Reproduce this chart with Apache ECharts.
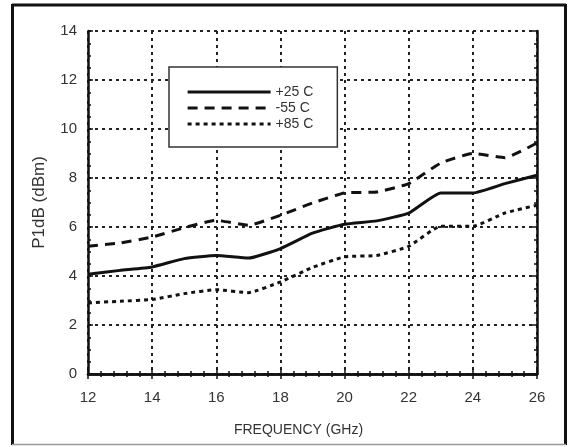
<!DOCTYPE html>
<html>
<head>
<meta charset="utf-8">
<script src="https://cdn.jsdelivr.net/npm/echarts@6/dist/echarts.min.js"></script>
<style>
html,body{margin:0;padding:0;background:#fff;}
#chart{width:569px;height:447px;}
</style>
</head>
<body>
<div id="chart"></div>
<script>
var frequencies = [12, 13, 14, 15, 16, 17, 18, 19, 20, 21, 22, 23, 24, 25, 26];
var seriesNames = ['+25 C', '-55 C', '+85 C'];
var p1dbPlus25 = [4.07, 4.23, 4.37, 4.71, 4.84, 4.73, 5.12, 5.75, 6.11, 6.25, 6.57, 7.39, 7.39, 7.77, 8.11];
var p1dbMinus55 = [5.21, 5.35, 5.59, 5.97, 6.27, 6.07, 6.48, 6.98, 7.39, 7.43, 7.77, 8.61, 9.0, 8.83, 9.43];
var p1dbPlus85 = [2.90, 2.97, 3.04, 3.28, 3.44, 3.32, 3.76, 4.35, 4.78, 4.84, 5.21, 6.03, 6.03, 6.57, 6.89];
var xTicks = [12, 14, 16, 18, 20, 22, 24, 26];
var yTicks = [0, 2, 4, 6, 8, 10, 12, 14];

function pairs(vals) {
  return frequencies.map(function (f, i) { return [f, vals[i]]; });
}

var FONT = '"Liberation Sans Narrow", "Liberation Sans", Arial, sans-serif';
var INK = '#111';

var chart = echarts.init(document.getElementById('chart'), null, {renderer: 'canvas'});

var gridLine = {show: true, lineStyle: {color: '#222', width: 2, type: [3, 4]}};

chart.setOption({
  animation: false,
  backgroundColor: '#fff',
  grid: {left: 88, right: 32, top: 31, bottom: 73, containLabel: false},
  legend: {
    orient: 'vertical',
    left: 169,
    top: 67,
    data: seriesNames,
    backgroundColor: '#fff',
    borderColor: '#333',
    borderWidth: 1.5,
    padding: [18, 24, 16, 17],
    itemWidth: 83,
    itemHeight: 14,
    itemGap: 2,
    itemStyle: {opacity: 0},
    lineStyle: {width: 3.2},
    textStyle: {fontFamily: FONT, fontSize: 14, color: '#333'},
    selectedMode: false,
    z: 10
  },
  xAxis: [{
    type: 'value', min: xTicks[0], max: xTicks[xTicks.length - 1], interval: 2,
    name: 'FREQUENCY (GHz)', nameLocation: 'middle', nameGap: 49,
    nameTextStyle: {fontFamily: FONT, fontSize: 14, color: '#333', padding: [0, 28, 0, 0]},
    axisLine: {show: true, onZero: false, lineStyle: {color: INK, width: 2.5}},
    axisTick: {show: true, inside: true, length: 5, lineStyle: {color: INK, width: 1.5}},
    minorTick: {show: true, splitNumber: 5, length: 3, lineStyle: {color: INK, width: 1.5}},
    axisLabel: {margin: 16, fontFamily: FONT, fontSize: 15, color: '#333'},
    splitLine: gridLine
  }, {
    type: 'value', position: 'top', min: 12, max: 26, interval: 2,
    axisLine: {show: true, lineStyle: {color: INK, width: 2.5}},
    axisTick: {show: true, inside: true, length: 5, lineStyle: {color: INK, width: 1.5}},
    minorTick: {show: true, splitNumber: 5, length: 3, lineStyle: {color: INK, width: 1.5}},
    axisLabel: {show: false},
    splitLine: {show: false}
  }],
  yAxis: [{
    type: 'value', min: yTicks[0], max: yTicks[yTicks.length - 1], interval: 2,
    name: 'P1dB (dBm)', nameLocation: 'middle', nameGap: 40,
    nameTextStyle: {fontFamily: FONT, fontSize: 17, color: '#333'},
    axisLine: {show: true, onZero: false, lineStyle: {color: INK, width: 2.5}},
    axisTick: {show: true, inside: true, length: 5, lineStyle: {color: INK, width: 1.5}},
    minorTick: {show: true, splitNumber: 4, length: 3, lineStyle: {color: INK, width: 1.5}},
    axisLabel: {margin: 11, fontFamily: FONT, fontSize: 15, color: '#333'},
    splitLine: gridLine
  }, {
    type: 'value', position: 'right', min: 0, max: 14, interval: 2,
    axisLine: {show: true, lineStyle: {color: INK, width: 2.5}},
    axisTick: {show: true, inside: true, length: 5, lineStyle: {color: INK, width: 1.5}},
    minorTick: {show: true, splitNumber: 4, length: 3, lineStyle: {color: INK, width: 1.5}},
    axisLabel: {show: false},
    splitLine: {show: false}
  }],
  graphic: [
    {type: 'line', shape: {x1: 12, y1: 5, x2: 566, y2: 5}, style: {stroke: INK, lineWidth: 3}},
    {type: 'line', shape: {x1: 12.5, y1: 4, x2: 12.5, y2: 445}, style: {stroke: INK, lineWidth: 3}},
    {type: 'line', shape: {x1: 565.5, y1: 4, x2: 565.5, y2: 445}, style: {stroke: INK, lineWidth: 3}},
    {type: 'line', shape: {x1: 12, y1: 444.5, x2: 566, y2: 444.5}, style: {stroke: '#999', lineWidth: 1.5}}
  ],
  series: [
    {name: seriesNames[0], type: 'line', data: pairs(p1dbPlus25), symbol: 'none', smooth: 0.15,
     color: INK, lineStyle: {color: INK, width: 3, type: 'solid'}, z: 5},
    {name: seriesNames[1], type: 'line', data: pairs(p1dbMinus55), symbol: 'none', smooth: 0.15,
     color: INK, lineStyle: {color: INK, width: 3, type: [10, 7]}, z: 5},
    {name: seriesNames[2], type: 'line', data: pairs(p1dbPlus85), symbol: 'none', smooth: 0.15,
     color: INK, lineStyle: {color: INK, width: 3, type: [4, 4]}, z: 5}
  ]
});
</script>
</body>
</html>
